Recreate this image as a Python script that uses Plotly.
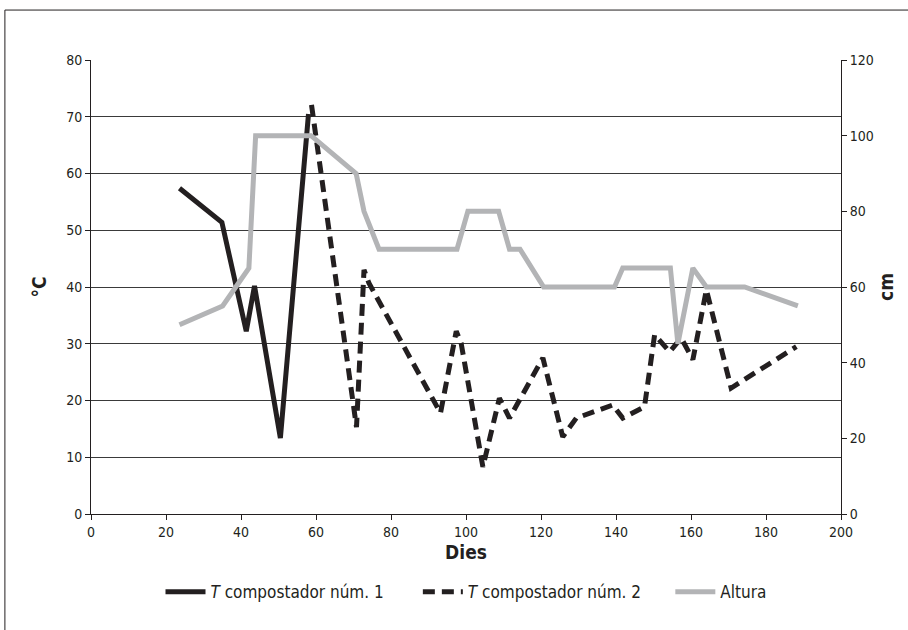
import plotly.graph_objects as go

# T compostador núm. 1 (°C)
t1_dies = [23.6, 34.9, 41.4, 43.6, 50.5, 58.0]
t1_temp = [57.4, 51.4, 32.2, 40.2, 13.4, 70.5]

# T compostador núm. 2 (°C)
t2_dies = [58.8, 69.8, 70.8, 72.8, 74.1, 93.2, 97.4, 98.7, 104.5, 108.9, 111.6,
           120.5, 125.8, 129.4, 139.1, 141.8, 147.6, 150.3, 154.3, 157.4, 160.5,
           164.1, 170.7, 188.1]
t2_temp = [72.1, 19.5, 15.3, 43.0, 40.7, 17.8, 32.2, 30.1, 8.3, 20.4, 16.9,
           27.5, 13.6, 16.9, 19.2, 16.9, 18.9, 31.6, 28.6, 31.0, 27.2,
           39.5, 22.2, 29.5]

# Altura (cm)
alt_dies = [23.6, 35.1, 42.1, 43.9, 58.7, 70.7, 72.8, 76.8, 97.6, 100.5, 108.7,
            111.6, 114.4, 120.7, 139.6, 141.8, 154.5, 156.5, 160.5, 164.1, 174.3, 188.5]
alt_cm = [50, 55, 65, 100, 100, 90, 80, 70, 70, 80, 80,
          70, 70, 60, 60, 65, 65, 45, 65, 60, 60, 55]

x_ticks = list(range(0, 201, 20))
y1_ticks = list(range(0, 81, 10))
y2_ticks = list(range(0, 121, 20))

FONT = "DejaVu Sans Condensed, Liberation Sans Narrow, sans-serif"
BLACK = "#231f20"
GREY = "#b3b4b6"

fig = go.Figure()
fig.add_trace(go.Scatter(x=t1_dies, y=t1_temp, mode="lines",
                         name="<i>T</i> compostador núm. 1      ",
                         line=dict(color=BLACK, width=5)))
fig.add_trace(go.Scatter(x=t2_dies, y=t2_temp, mode="lines",
                         name="<i>T</i> compostador núm. 2     ",
                         line=dict(color=BLACK, width=5, dash="12px,7px")))
fig.add_trace(go.Scatter(x=alt_dies, y=alt_cm, mode="lines", name="Altura",
                         yaxis="y2", line=dict(color=GREY, width=5)))

fig.update_layout(
    width=908, height=630,
    margin=dict(l=91, r=67, t=60, b=116),
    paper_bgcolor="white", plot_bgcolor="white",
    font=dict(family=FONT, size=14, color=BLACK),
    showlegend=True,
    legend=dict(orientation="h", x=0.5, xanchor="center", y=-0.172, yanchor="middle",
                font=dict(size=17, family=FONT, color=BLACK), traceorder="normal",
                itemwidth=40, tracegroupgap=0),
    xaxis=dict(range=[0, 200], tickvals=x_ticks, ticktext=[str(v) for v in x_ticks],
               showgrid=False, zeroline=False, showline=True, linecolor=BLACK, linewidth=1,
               ticks="outside", ticklen=5, tickcolor=BLACK, mirror=False, automargin=False,
               title=dict(text="<b>Dies</b>", font=dict(size=19, family=FONT), standoff=6),
               tickfont=dict(size=14, family=FONT)),
    yaxis=dict(range=[0, 80], tickvals=y1_ticks, showgrid=True, gridcolor="#3a3a3a", gridwidth=1,
               zeroline=False, showline=True, linecolor=BLACK, linewidth=1,
               ticks="outside", ticklen=5, tickcolor=BLACK, automargin=False,
               title=dict(text="<b>°C</b>", font=dict(size=19, family=FONT), standoff=14),
               tickfont=dict(size=14, family=FONT)),
    yaxis2=dict(range=[0, 120], tickvals=y2_ticks, overlaying="y", side="right",
                showgrid=False, zeroline=False, showline=True, linecolor=BLACK, linewidth=1,
                ticks="outside", ticklen=5, tickcolor=BLACK, automargin=False,
                title=dict(text="<b>cm</b>", font=dict(size=19, family=FONT), standoff=6),
                tickfont=dict(size=14, family=FONT)),
    shapes=[dict(type="rect", xref="paper", yref="paper",
                 x0=-0.1148, x1=1.2, y0=-0.40, y1=1.110,
                 line=dict(color=BLACK, width=1), fillcolor="rgba(0,0,0,0)", layer="below")],
)

fig.write_html("out.html", config={"displayModeBar": False},
               post_script="document.body.style.margin='0px';document.body.style.overflow='hidden';")
